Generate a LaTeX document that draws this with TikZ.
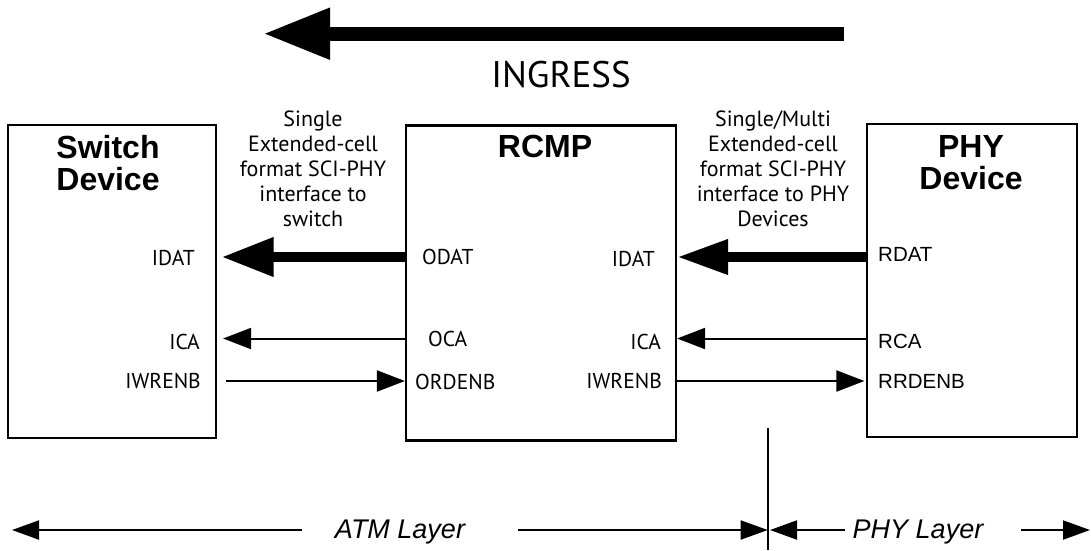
\documentclass[tikz,border=0pt]{standalone}
\usepackage{fontspec}
\setmainfont{Liberation Sans}
\newfontfamily\pts{PT Sans}
\usetikzlibrary{arrows.meta}
\begin{document}
\begin{tikzpicture}[x=1pt,y=-1pt,
 box/.style={draw,line width=2.2pt,rectangle,inner sep=0pt},
 lbl/.style={inner sep=0pt,font=\pts\fontsize{21.5}{25}\selectfont},
 hlbl/.style={inner sep=0pt,font=\fontsize{20.5}{25}\selectfont},
 devtitle/.style={inner sep=0pt,align=center,font=\bfseries\fontsize{32}{32}\selectfont},
 sidenote/.style={inner sep=0pt,align=center,font=\pts\fontsize{22}{25}\selectfont},
 layertext/.style={inner sep=0pt,font=\itshape\fontsize{27}{30}\selectfont},
 sigarrow/.style={line width=2pt,-{Triangle[length=28pt,width=21pt]}},
 dataarrow/.style={line width=10pt,-{Triangle[length=52pt,width=37pt]}},
 layerarrow/.style={line width=2pt,-{Triangle[length=27pt,width=19pt]}},
]
\useasboundingbox (0,0) rectangle (1091,550);

% boxes
\node[box,minimum width=208pt,minimum height=313pt] (sw) at (112,281.5) {};
\node[box,minimum width=270pt,minimum height=315pt] (rc) at (541,283) {};
\node[box,minimum width=210pt,minimum height=313pt] (phy) at (972,280.5) {};

% titles
\node[devtitle,anchor=north] (swt) at (108,135) {Switch\\Device};
\node[devtitle,anchor=north] (rct) at (545,135) {RCMP};
\node[devtitle,anchor=north] (phyt) at (971,135) {PHY\\Device};

% ingress
\node[inner sep=0pt,font=\pts\fontsize{37}{40}\selectfont,anchor=base] (ing) at (561,87) {INGRESS};
\coordinate (ingS) at (843.5,33.7);
\coordinate (ingE) at (263,33.7);
\draw[line width=14pt,-{Triangle[length=67pt,width=48pt]}] (ingS) -- (ingE);

% side notes
\node[sidenote,anchor=north] (n1) at (313,111) {Single\\Extended-cell\\format SCI-PHY\\interface to\\switch};
\node[sidenote,anchor=north] (n2) at (773,111) {Single/Multi\\Extended-cell\\format SCI-PHY\\interface to PHY\\Devices};

% row coordinates
\coordinate (r1) at (0,257);
\coordinate (r2) at (0,338.5);
\coordinate (r3) at (0,381);

% labels - switch
\node[lbl,anchor=base east] (swidat) at (195,265) {IDAT};
\node[lbl,anchor=base east] (swica) at (200,349) {ICA};
\node[lbl,anchor=base east] (swiwr) at (201,388) {IWRENB};
% labels - RCMP left
\node[lbl,anchor=base west] (rcodat) at (422,264) {ODAT};
\node[lbl,anchor=base west] (rcoca) at (428,346) {OCA};
\node[lbl,anchor=base west] (rcord) at (415,389) {ORDENB};
% labels - RCMP right
\node[lbl,anchor=base east] (rcidat) at (655,266) {IDAT};
\node[lbl,anchor=base east] (rcica) at (661,349) {ICA};
\node[lbl,anchor=base east] (rciwr) at (662,388) {IWRENB};
% labels - PHY
\node[hlbl,anchor=base west] (phrdat) at (878,261) {RDAT};
\node[hlbl,anchor=base west] (phrca) at (878,348) {RCA};
\node[hlbl,anchor=base west] (phrrd) at (878,388) {RRDENB};

% connectors RCMP -> switch
\draw[dataarrow] (rc.west |- r1) -- ([xshift=4.5pt]sw.east |- r1);
\draw[sigarrow] (rc.west |- r2) -- ([xshift=6pt]sw.east |- r2);
\draw[sigarrow] ([xshift=9pt]sw.east |- r3) -- (rc.west |- r3);
% connectors PHY -> RCMP
\draw[dataarrow,-{Triangle[length=51pt,width=33pt]}] ([xshift=2pt]phy.west |- r1) -- (rc.east |- r1);
\draw[sigarrow] (phy.west |- r2) -- (rc.east |- r2);
\draw[sigarrow] ([xshift=-1pt]rc.east |- r3) -- ([xshift=-1.5pt]phy.west |- r3);

% layer divider
\coordinate (divT) at (767.7,428);
\coordinate (divB) at (767.7,550);
\draw[line width=2pt] (divT) -- (divB);

% layer labels and arrows
\node[layertext,anchor=base] (atm) at (400,538) {ATM Layer};
\node[layertext,anchor=base] (phl) at (918,538) {PHY Layer};
\coordinate (bl) at (0,530);
\coordinate (atmL) at (12,530);
\coordinate (phyR) at (1090,530);
\draw[layerarrow] ([xshift=-33pt]atm.west |- bl) -- (atmL);
\draw[layerarrow] ([xshift=53pt]atm.east |- bl) -- (divT |- bl);
\draw[layerarrow] ([xshift=-8pt]phl.west |- bl) -- ([xshift=2.3pt]divT |- bl);
\draw[layerarrow] ([xshift=38pt]phl.east |- bl) -- (phyR);
\end{tikzpicture}
\end{document}
